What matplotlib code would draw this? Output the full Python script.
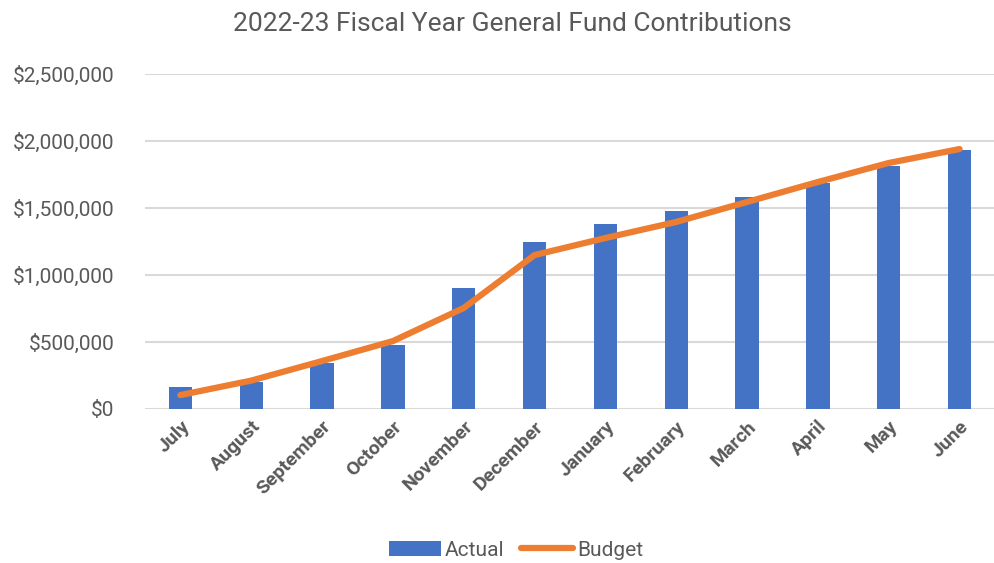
import numpy as np
import matplotlib.pyplot as plt
from matplotlib.ticker import FuncFormatter

months = ['July', 'August', 'September', 'October', 'November', 'December',
          'January', 'February', 'March', 'April', 'May', 'June']
actual = [165000, 205000, 343000, 478000, 903000, 1246000,
          1381000, 1478000, 1582000, 1687000, 1813000, 1933000]
budget = [104000, 212000, 358000, 507000, 754000, 1149000,
          1276000, 1396000, 1545000, 1694000, 1836000, 1940000]

plt.rcParams['font.family'] = ['Roboto', 'DejaVu Sans']
txt = '#595959'

fig = plt.figure(figsize=(9.95, 5.63), dpi=100)
ax = fig.add_axes([145 / 995, 1 - 409 / 563, 850 / 995, 335 / 563])

x = np.arange(len(months))
bars = ax.bar(x, actual, width=0.33, color='#4472C4', label='Actual', zorder=2)
line, = ax.plot(x, budget, color='#ED7D31', lw=4.5, label='Budget', zorder=3,
                solid_capstyle='round')

ax.set_xlim(-0.5, len(months) - 0.5)
ax.set_ylim(0, 2500000)
ax.set_yticks(np.arange(0, 2500001, 500000))
ax.yaxis.set_major_formatter(FuncFormatter(lambda v, p: '${:,.0f}'.format(v)))
ax.grid(axis='y', color='#d9d9d9', lw=1.5, zorder=0)
for s in ax.spines.values():
    s.set_visible(False)
ax.tick_params(length=0, colors=txt, labelsize=15)
ax.tick_params(axis='y', pad=22)
ax.tick_params(axis='x', pad=6)
ax.set_xticks(x)
ax.set_xticklabels(months, rotation=45, ha='right', rotation_mode='anchor',
                   fontweight='bold', fontsize=14)

fig.text(0.515, 0.958, '2022-23 Fiscal Year General Fund Contributions',
         ha='center', va='center', fontsize=19, color=txt)
fig.legend([bars, line], ['Actual', 'Budget'], loc='center',
           bbox_to_anchor=(516 / 995, 1 - 550 / 563), ncol=2, frameon=False,
           fontsize=15, labelcolor=txt, handlelength=2.5, handletextpad=0.2,
           columnspacing=0.8, borderpad=0)

fig.savefig('out.png')
